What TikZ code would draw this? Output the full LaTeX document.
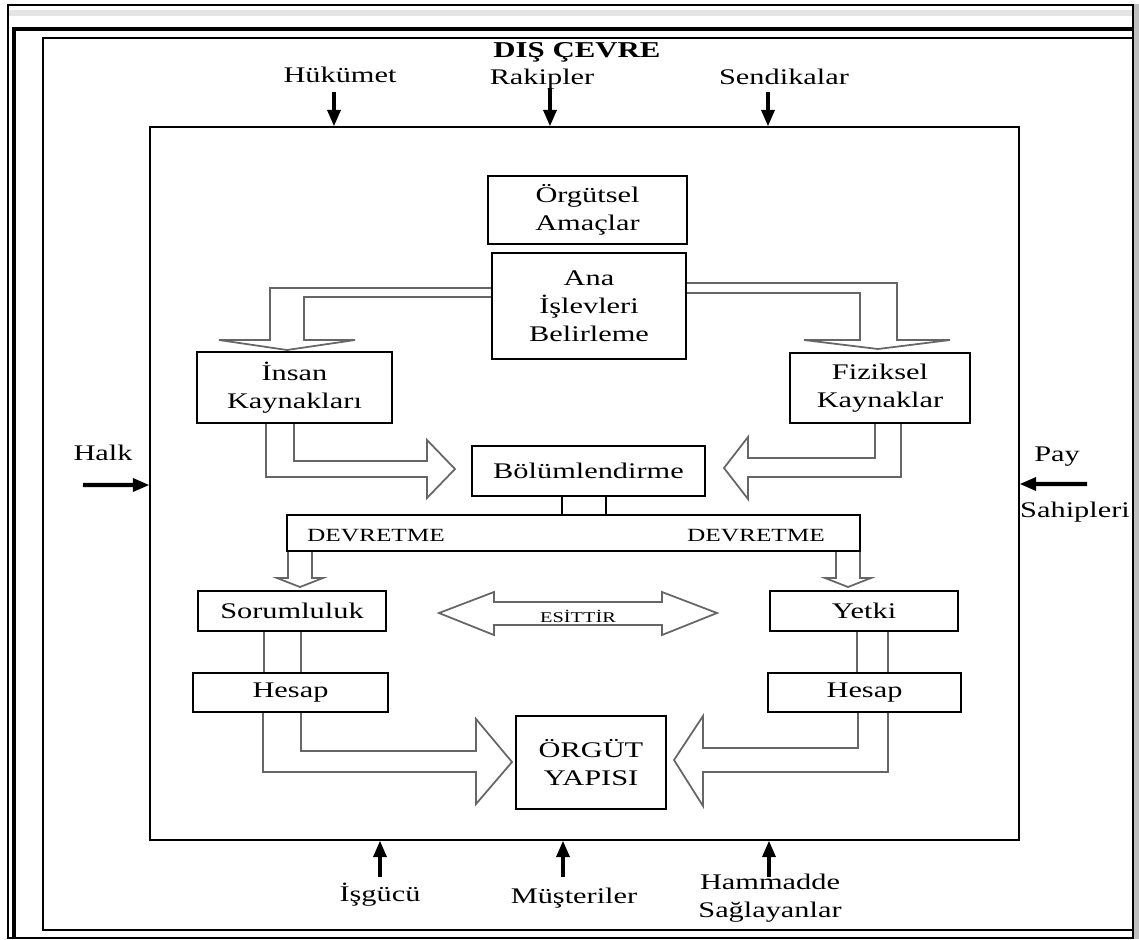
\documentclass[tikz,border=0pt]{standalone}
\usepackage{fontspec}
\setmainfont{Liberation Serif}[FakeStretch=1.36]
\usepackage{tikz}
\tikzset{
  font={\fontsize{12.7pt}{15.9pt}\selectfont}}
\tikzset{
  kutu/.style={draw=black, line width=1.2pt, align=center},
  oklu/.style={draw=black!60, line width=1pt},
  cerceve/.style={draw=black, line width=1pt},
  dis/.style={black, line width=2.3pt}}

\begin{document}
\begin{tikzpicture}[scale=0.2]
\tikzstyle{every node}+=[inner sep=0pt]
\useasboundingbox (0,0) rectangle (113.9,-93.9);
% page frames
\fill [black!10] (0.9,-1.0) rectangle (113.3,-1.6);
\fill [black!25] (113.4,-0.4) rectangle (113.9,-93.9);
\draw [cerceve] (0.8,-0.5) rectangle (113.3,-93.8);
\draw [cerceve, line width=0.6pt] (1.3,-93.9) |- (113.3,-2.8);
\draw [cerceve, line width=0.6pt] (1.5,-93.9) |- (113.3,-3.0);
\draw [cerceve] (4.3,-3.8) rectangle (113.3,-93.0);
% organisation
\node [draw, line width=1.2pt, minimum width=17.38cm, minimum height=14.26cm] (ic) at (58.45,-48.35) {};
\node (dc) at (57.7,-5.2) {\bfseries\fontsize{12.9pt}{14pt}\selectfont DIŞ ÇEVRE};
\node (hk) at (34.0,-7.5) {Hükümet};
\node (rk) at (54.2,-7.9) {Rakipler};
\node (sn) at (78.4,-7.7) {Sendikalar};
\node (hl) at (10.3,-45.3) {Halk};
\node (py) at (105.7,-45.7) {Pay};
\node (sh) at (107.5,-51.2) {Sahipleri};
\node (is) at (38.0,-89.5) {İşgücü};
\node (ms) at (57.4,-89.8) {Müşteriler};
\node [align=center] (hm) at (77.0,-89.85) {Hammadde\\Sağlayanlar};
% outside arrows
\coordinate (a1) at (33.4,-9.2);
\coordinate (a2) at (55.0,-8.8);
\coordinate (a3) at (76.8,-9.2);
\coordinate (a4) at (38.0,-87.7);
\coordinate (a5) at (56.3,-87.7);
\coordinate (a6) at (76.9,-87.7);
\coordinate (a7) at (8.3,-48.5);
\coordinate (a8) at (108.7,-48.4);
\draw [dis] (a1) -- (a1 |- 0,-11.2);
\fill [black] (a1 |- ic.north) -- ++(-0.7,1.6) -- ++(1.4,0) -- cycle;
\draw [dis] (a2) -- (a2 |- 0,-11.2);
\fill [black] (a2 |- ic.north) -- ++(-0.7,1.6) -- ++(1.4,0) -- cycle;
\draw [dis] (a3) -- (a3 |- 0,-11.2);
\fill [black] (a3 |- ic.north) -- ++(-0.7,1.6) -- ++(1.4,0) -- cycle;
\draw [dis] (a4) -- (a4 |- 0,-85.5);
\fill [black] (a4 |- ic.south) -- ++(-0.7,-1.6) -- ++(1.4,0) -- cycle;
\draw [dis] (a5) -- (a5 |- 0,-85.5);
\fill [black] (a5 |- ic.south) -- ++(-0.7,-1.6) -- ++(1.4,0) -- cycle;
\draw [dis] (a6) -- (a6 |- 0,-85.5);
\fill [black] (a6 |- ic.south) -- ++(-0.7,-1.6) -- ++(1.4,0) -- cycle;
\draw [dis] (a7) -- (13.5,-48.5);
\fill [black] (a7 -| ic.west) -- ++(-1.6,0.7) -- ++(0,-1.4) -- cycle;
\draw [dis] (a8) -- (103.4,-48.4);
\fill [black] (a8 -| ic.east) -- ++(1.6,0.7) -- ++(0,-1.4) -- cycle;
% boxes
\node [kutu, minimum width=3.98cm, minimum height=1.36cm] (amac) at (58.75,-21.0) {Örgütsel\\Amaçlar};
\node [kutu, minimum width=3.88cm, minimum height=2.12cm] (ana) at (58.9,-30.6) {Ana\\İşlevleri\\Belirleme};
\node [kutu, minimum width=3.9cm, minimum height=1.42cm] (insan) at (29.45,-38.75) {İnsan\\Kaynakları};
\node [kutu, minimum width=3.6cm, minimum height=1.4cm] (fizik) at (88.0,-38.8) {Fiziksel\\Kaynaklar};
\node [kutu, minimum width=4.66cm, minimum height=1.0cm] (bolum) at (58.85,-47.1) {Bölümlendirme};
\node [kutu, minimum width=11.46cm, minimum height=0.72cm] (devr) at (57.35,-53.3) {};
\node (dv1) at (37.6,-53.6) {\fontsize{10.6pt}{11pt}\selectfont DEVRETME};
\node (dv2) at (75.6,-53.6) {\fontsize{10.6pt}{11pt}\selectfont DEVRETME};
\node [kutu, minimum width=3.76cm, minimum height=0.8cm] (sorum) at (29.2,-61.1) {Sorumluluk};
\node [kutu, minimum width=3.76cm, minimum height=0.8cm] (yetki) at (86.4,-61.1) {Yetki};
\node [kutu, minimum width=3.9cm, minimum height=0.78cm] (hesap1) at (29.05,-69.25) {Hesap};
\node [kutu, minimum width=3.86cm, minimum height=0.78cm] (hesap2) at (86.45,-69.25) {Hesap};
\node [kutu, minimum width=3.0cm, minimum height=1.86cm] (orgut) at (59.1,-76.25) {ÖRGÜT\\YAPISI};
\node (es) at (57.8,-61.6) {\fontsize{8.5pt}{9pt}\selectfont ESİTTİR};
% connectors
\draw [kutu] (bolum.south -| 56.2,0) -- (devr.north -| 56.2,0);
\draw [kutu] (bolum.south -| 60.6,0) -- (devr.north -| 60.6,0);
\draw [oklu] (ana.west |- 0,-28.8) -| (27.0,-34.0) -- (21.9,-34.0) -- (28.7,-35.0) -- (35.5,-34.0) -- (30.4,-34.0) |- (ana.west |- 0,-29.7);
\draw [oklu] (ana.east |- 0,-28.3) -| (89.7,-34.0) -- (95.0,-34.0) -- (87.8,-34.9) -- (80.4,-34.0) -- (86.0,-34.0) |- (ana.east |- 0,-29.3);
\draw [oklu] (insan.south -| 29.4,0) |- (42.7,-46.1) -- (42.7,-44.0) -- (45.5,-46.9) -- (42.7,-49.8) -- (42.7,-47.7) -| (insan.south -| 26.6,0);
\draw [oklu] (fizik.south -| 87.5,0) |- (74.8,-45.8) -- (74.8,-43.7) -- (72.4,-46.8) -- (74.8,-49.9) -- (74.8,-47.7) -| (fizik.south -| 90.1,0);
\draw [oklu] (devr.south -| 28.8,0) -- (28.8,-57.8) -- (27.7,-57.8) -- (30.0,-58.7) -- (32.3,-57.8) -- (31.2,-57.8) -- (devr.south -| 31.2,0);
\draw [oklu] (devr.south -| 83.6,0) -- (83.6,-57.8) -- (82.5,-57.8) -- (84.8,-58.7) -- (87.1,-57.8) -- (86.0,-57.8) -- (devr.south -| 86.0,0);
\draw [oklu] (43.9,-61.3) -- (49.4,-59.2) -- (49.4,-60.2) -- (66.2,-60.2) -- (66.2,-59.2) -- (71.7,-61.3) -- (66.2,-63.5) -- (66.2,-62.5) -- (49.4,-62.5) -- (49.4,-63.5) -- cycle;
\draw [oklu] (sorum.south -| 26.4,0) -- (hesap1.north -| 26.4,0);
\draw [oklu] (sorum.south -| 30.1,0) -- (hesap1.north -| 30.1,0);
\draw [oklu] (yetki.south -| 85.7,0) -- (hesap2.north -| 85.7,0);
\draw [oklu] (yetki.south -| 88.8,0) -- (hesap2.north -| 88.8,0);
\draw [oklu] (hesap1.south -| 30.1,0) |- (47.6,-75.1) -- (47.6,-71.9) -- (51.2,-76.2) -- (47.6,-80.4) -- (47.6,-77.2) -| (hesap1.south -| 26.3,0);
\draw [oklu] (hesap2.south -| 85.8,0) |- (70.3,-74.8) -- (70.3,-71.6) -- (67.4,-76.0) -- (70.3,-80.6) -- (70.3,-77.2) -| (hesap2.south -| 88.8,0);
\end{tikzpicture}
\end{document}
